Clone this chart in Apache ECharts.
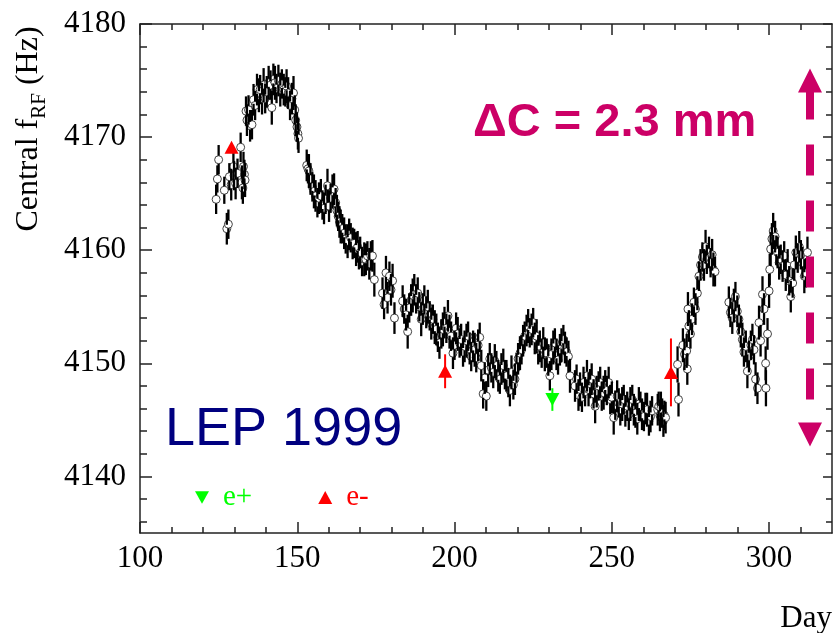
<!DOCTYPE html>
<html>
<head>
<meta charset="utf-8">
<script src="https://cdn.jsdelivr.net/npm/echarts@6/dist/echarts.min.js"></script>
<style>
  html, body { margin: 0; padding: 0; background: #fff; }
  #chart { width: 833px; height: 633px; }
</style>
</head>
<body>
<div id="chart"></div>
<script>
// 目盛りの値
const xMajorTicks = [100, 150, 200, 250, 300];
const xMinorTicks = [110, 120, 130, 140, 160, 170, 180, 190, 210, 220, 230, 240, 260, 270, 280, 290, 310];
const yMajorTicks = [4140, 4150, 4160, 4170, 4180];
const yMinorTicks = [4136, 4138, 4142, 4144, 4146, 4148, 4152, 4154, 4156, 4158,
  4162, 4164, 4166, 4168, 4172, 4174, 4176, 4178];

// 測定点 [日, 周波数(Hz), 誤差(Hz)]
const startRun = [
  [124.2, 4164.5, 1.3], [124.6, 4166.3, 1.2], [125.0, 4168.0, 1.3], [126.8, 4165.3, 1.2],
  [127.6, 4161.9, 1.4], [128.1, 4162.3, 1.3], [128.4, 4166.5, 1.2], [129.0, 4165.8, 1.4],
  [129.7, 4167.4, 1.2], [129.9, 4166.6, 1.3], [130.4, 4165.9, 1.4], [131.0, 4166.8, 1.3],
  [132.0, 4169.1, 1.3], [132.4, 4166.0, 1.5], [132.7, 4165.5, 1.4], [132.9, 4167.4, 1.3],
  [133.2, 4166.7, 1.3], [133.4, 4166.2, 1.5]
];
const peak = [
  [133.7, 4172.3, 1.3], [134.0, 4171.5, 1.4], [134.5, 4172.4, 1.3], [135.0, 4171.0, 1.4],
  [135.6, 4171.1, 1.3], [136.1, 4173.3, 1.4], [136.6, 4172.8, 1.3], [137.2, 4174.2, 1.4],
  [137.8, 4173.7, 1.5], [138.2, 4174.2, 1.3], [138.8, 4173.4, 1.4], [139.3, 4174.6, 1.5],
  [139.8, 4173.4, 1.3], [140.3, 4174.0, 1.4], [140.9, 4174.8, 1.5], [141.5, 4174.6, 1.3],
  [141.9, 4172.6, 1.5], [142.4, 4175.1, 1.4], [142.9, 4174.8, 1.5], [143.4, 4174.3, 1.3],
  [144.0, 4175.0, 1.4], [144.6, 4174.2, 1.5], [145.1, 4174.7, 1.3], [145.7, 4174.2, 1.4],
  [146.2, 4174.0, 1.3], [146.6, 4174.5, 1.5], [147.1, 4173.9, 1.4], [147.7, 4172.8, 1.3],
  [148.3, 4173.4, 1.4], [148.8, 4173.9, 1.5], [149.2, 4172.4, 1.3], [149.5, 4171.5, 1.4],
  [149.9, 4170.9, 1.3], [150.2, 4170.3, 1.4], [150.4, 4169.9, 1.3]
];
const slowDecay = [
  [153.0, 4167.5, 1.4], [153.4, 4167.2, 1.3], [153.7, 4167.0, 1.5], [154.2, 4166.3, 1.4],
  [154.8, 4165.6, 1.3], [155.3, 4165.2, 1.5], [155.8, 4164.8, 1.4], [156.4, 4164.2, 1.3],
  [156.9, 4164.6, 1.4], [157.5, 4164.8, 1.5], [158.0, 4164.0, 1.3], [158.5, 4163.7, 1.4],
  [159.0, 4164.5, 1.3], [159.6, 4165.7, 1.5], [160.1, 4163.9, 1.4], [160.6, 4164.6, 1.3],
  [161.2, 4165.2, 1.5], [161.7, 4165.4, 1.4], [162.2, 4164.2, 1.3], [162.6, 4163.5, 1.4],
  [163.0, 4163.0, 1.3], [163.4, 4162.5, 1.4], [163.8, 4162.1, 1.5], [164.3, 4161.9, 1.3],
  [164.9, 4161.5, 1.4], [165.4, 4161.0, 1.3], [166.0, 4160.8, 1.5], [166.5, 4161.4, 1.4],
  [167.0, 4161.1, 1.3], [167.6, 4160.6, 1.4], [168.1, 4160.6, 1.3], [168.7, 4160.1, 1.5],
  [169.2, 4160.3, 1.4], [169.6, 4159.6, 1.3], [170.0, 4159.8, 1.4], [170.6, 4159.0, 1.3],
  [171.3, 4159.2, 1.5], [171.8, 4159.2, 1.4], [172.3, 4159.5, 1.3], [172.9, 4158.8, 1.4],
  [173.4, 4159.5, 1.3], [173.9, 4159.5, 1.4], [174.5, 4157.4, 1.5]
];
const autumnA = [
  [177.1, 4156.2, 1.4], [177.6, 4155.2, 1.3], [178.2, 4158.0, 1.5], [178.7, 4155.8, 1.4],
  [179.3, 4157.7, 1.3], [179.8, 4156.5, 1.4], [180.3, 4157.3, 1.5], [180.9, 4154.0, 1.4],
  [183.5, 4155.5, 1.4], [184.0, 4154.8, 1.3], [184.6, 4154.3, 1.4], [185.1, 4152.8, 1.5],
  [185.6, 4154.9, 1.3], [186.2, 4155.6, 1.4], [186.7, 4156.0, 1.5], [187.2, 4156.5, 1.4],
  [187.8, 4155.7, 1.3], [188.3, 4156.2, 1.4], [188.8, 4155.0, 1.3], [189.4, 4153.9, 1.5],
  [189.9, 4154.8, 1.4], [190.4, 4155.6, 1.3], [191.0, 4154.5, 1.4], [191.5, 4155.0, 1.5],
  [192.1, 4154.2, 1.3], [192.6, 4153.5, 1.4], [193.1, 4153.9, 1.3], [193.7, 4153.2, 1.5],
  [194.2, 4153.0, 1.4], [194.7, 4152.3, 1.3], [195.2, 4151.8, 1.4], [195.8, 4152.6, 1.3],
  [196.3, 4153.0, 1.5], [196.8, 4153.6, 1.4], [197.4, 4153.1, 1.3], [197.9, 4154.2, 1.4],
  [198.4, 4152.8, 1.5], [198.9, 4152.4, 1.3], [199.5, 4150.9, 1.4], [200.0, 4151.6, 1.3],
  [200.5, 4153.1, 1.4], [201.0, 4152.6, 1.5], [201.6, 4151.8, 1.3], [202.1, 4152.1, 1.4],
  [202.7, 4151.0, 1.3], [203.2, 4151.5, 1.4], [203.8, 4152.0, 1.5], [204.3, 4152.4, 1.3],
  [204.8, 4151.3, 1.4], [205.3, 4150.6, 1.3], [205.9, 4151.5, 1.4], [206.4, 4151.2, 1.5],
  [206.9, 4150.5, 1.3], [207.5, 4151.6, 1.4], [208.0, 4152.3, 1.3]
];
const autumnB = [
  [208.5, 4149.8, 1.4], [209.1, 4147.3, 1.3], [209.6, 4148.7, 1.4], [210.1, 4147.1, 1.3],
  [210.7, 4149.4, 1.5], [211.2, 4150.4, 1.4], [211.7, 4149.6, 1.3], [212.3, 4149.2, 1.4],
  [212.8, 4150.2, 1.5], [213.3, 4149.8, 1.3], [213.9, 4148.9, 1.4], [214.4, 4148.6, 1.3],
  [214.9, 4149.5, 1.4], [215.5, 4149.8, 1.5], [216.0, 4149.0, 1.3], [216.5, 4148.9, 1.4],
  [217.1, 4148.3, 1.3], [217.6, 4147.6, 1.4], [218.1, 4149.2, 1.5], [218.7, 4148.1, 1.3],
  [219.2, 4148.6, 1.4], [219.7, 4149.6, 1.3], [220.2, 4150.4, 1.4], [220.8, 4150.9, 1.5],
  [221.3, 4151.2, 1.3], [221.8, 4152.0, 1.4], [222.3, 4152.4, 1.3], [222.9, 4152.9, 1.4],
  [223.4, 4153.3, 1.5], [223.9, 4152.7, 1.3], [224.5, 4153.0, 1.4], [225.0, 4153.6, 1.3],
  [225.5, 4152.2, 1.4], [226.1, 4152.4, 1.5], [226.6, 4151.2, 1.3], [227.1, 4151.5, 1.4],
  [227.7, 4150.9, 1.3], [228.2, 4151.8, 1.4], [228.7, 4150.8, 1.5], [229.3, 4150.9, 1.3],
  [229.8, 4150.3, 1.4], [230.3, 4148.9, 1.3], [230.8, 4150.8, 1.4], [231.4, 4151.4, 1.5],
  [231.9, 4151.8, 1.3], [232.4, 4150.8, 1.4], [232.9, 4150.3, 1.3], [233.5, 4151.2, 1.4],
  [234.0, 4151.6, 1.5], [234.6, 4152.1, 1.3], [235.1, 4151.4, 1.4], [235.6, 4151.0, 1.3],
  [236.2, 4150.6, 1.4], [236.7, 4148.9, 1.5]
];
const plateau = [
  [238.3, 4148.0, 1.4], [238.8, 4148.6, 1.3], [239.4, 4147.2, 1.4], [239.9, 4147.7, 1.5],
  [240.5, 4147.0, 1.3], [241.0, 4148.3, 1.4], [241.5, 4147.5, 1.3], [242.1, 4148.9, 1.4],
  [242.6, 4147.7, 1.5], [243.1, 4148.2, 1.3], [243.6, 4148.6, 1.4], [244.2, 4147.3, 1.3],
  [244.7, 4146.2, 1.5], [245.2, 4147.5, 1.4], [245.8, 4148.0, 1.3], [246.3, 4148.3, 1.4],
  [246.8, 4147.1, 1.3], [247.4, 4147.4, 1.5], [247.9, 4148.0, 1.4], [248.4, 4147.6, 1.3],
  [249.0, 4148.3, 1.4], [249.5, 4146.8, 1.3], [250.0, 4147.0, 1.4], [250.6, 4145.2, 1.5],
  [251.1, 4146.3, 1.3], [251.7, 4147.1, 1.4], [252.2, 4146.5, 1.3], [252.7, 4145.9, 1.4],
  [253.3, 4146.4, 1.5], [253.8, 4146.8, 1.3], [254.3, 4145.8, 1.4], [254.9, 4146.2, 1.3],
  [255.4, 4145.5, 1.4], [255.9, 4146.4, 1.5], [256.5, 4146.8, 1.3], [257.0, 4145.9, 1.4],
  [257.5, 4145.6, 1.3], [258.1, 4145.1, 1.4], [258.6, 4146.4, 1.5], [259.1, 4146.2, 1.3],
  [259.6, 4145.5, 1.4], [260.2, 4145.3, 1.3], [260.7, 4146.0, 1.4], [261.2, 4145.9, 1.5],
  [261.8, 4144.9, 1.3], [262.3, 4145.3, 1.4], [262.8, 4145.8, 1.3],
  [264.6, 4145.9, 1.4], [264.9, 4146.2, 1.3], [265.3, 4145.4, 1.4], [265.6, 4146.0, 1.5],
  [266.0, 4145.6, 1.3], [266.4, 4144.9, 1.4], [266.7, 4145.4, 1.3], [267.1, 4145.2, 1.4]
];
const recovery = [
  [270.9, 4149.9, 1.6], [271.2, 4146.8, 1.5], [272.6, 4151.6, 1.5], [273.1, 4150.8, 1.4],
  [273.8, 4151.1, 1.5], [274.0, 4149.5, 1.4], [274.2, 4154.8, 1.5], [274.5, 4153.3, 1.4],
  [275.0, 4152.6, 1.3], [275.5, 4153.9, 1.4], [276.1, 4155.4, 1.3], [276.6, 4154.8, 1.4],
  [277.2, 4156.2, 1.5], [277.7, 4157.7, 1.3], [278.2, 4158.7, 1.4], [278.8, 4159.4, 1.3],
  [279.3, 4158.7, 1.4], [279.8, 4160.3, 1.5], [280.2, 4159.2, 1.3], [280.9, 4159.8, 1.4],
  [281.4, 4158.9, 1.3], [281.9, 4159.6, 1.4], [282.3, 4158.3, 1.5], [282.8, 4158.1, 1.3]
];
const lateRun = [
  [287.2, 4155.4, 1.4], [287.7, 4154.5, 1.3], [288.3, 4154.0, 1.4], [288.8, 4155.1, 1.5],
  [289.3, 4155.9, 1.3], [289.9, 4154.6, 1.4], [290.4, 4153.9, 1.3], [291.0, 4152.8, 1.4],
  [291.5, 4152.1, 1.5], [292.0, 4151.0, 1.3], [292.6, 4151.5, 1.4], [293.1, 4149.3, 1.5],
  [293.6, 4150.6, 1.4], [294.2, 4151.6, 1.3], [294.7, 4152.1, 1.4], [295.2, 4151.2, 1.3],
  [295.7, 4148.6, 1.5], [296.3, 4147.8, 1.4], [296.8, 4153.6, 1.5], [297.3, 4152.0, 1.4],
  [297.9, 4156.1, 1.6], [298.4, 4154.8, 1.4], [298.9, 4150.0, 1.5], [299.0, 4147.8, 1.6],
  [299.5, 4152.6, 1.4], [300.0, 4156.4, 1.5], [300.2, 4158.3, 1.4], [300.5, 4160.1, 1.5],
  [300.9, 4161.0, 1.4], [301.3, 4161.7, 1.6], [301.9, 4161.2, 1.4], [302.3, 4160.0, 1.3],
  [302.7, 4159.8, 1.4], [303.2, 4158.9, 1.5], [303.7, 4159.2, 1.3], [304.3, 4158.6, 1.4],
  [304.8, 4159.5, 1.3], [305.3, 4157.8, 1.4], [305.9, 4158.6, 1.5], [306.4, 4157.3, 1.3],
  [306.9, 4155.9, 1.4], [307.5, 4157.1, 1.3], [308.0, 4158.7, 1.4], [308.5, 4159.8, 1.5],
  [309.1, 4159.3, 1.3], [309.6, 4160.3, 1.4], [310.1, 4159.6, 1.3], [310.6, 4158.9, 1.4],
  [311.2, 4157.7, 1.5], [311.7, 4158.0, 1.3], [312.2, 4159.8, 1.4]
];

// 電子・陽電子による測定 [日, 周波数(Hz), 誤差(Hz)]
const electronPoints = [[129.1, 4169.1, 0], [197.0, 4149.3, 1.5], [268.8, 4149.2, 3.0]];
const positronPoints = [[231.1, 4146.8, 1.0]];

// ΔC の矢印（日, 下端, 上端）
const arrowDay = 313;
const arrowLow = 4143.7;
const arrowHigh = 4175.0;

const measurements = [].concat(startRun, peak, slowDecay, autumnA, autumnB, plateau, recovery, lateRun);

const SERIF = "'Liberation Serif', 'Times New Roman', serif";
const SANS = "'Liberation Sans', Arial, sans-serif";
const MAGENTA = '#cc0066';
const AXIS_COLOR = '#222';

const chart = echarts.init(document.getElementById('chart'));

// 枠の各辺に内向きの目盛りを描く軸を作る
function frameAxis(dim, position, ticks, length, main) {
  const range = dim === 'x' ? { min: 100, max: 320 } : { min: 4135, max: 4180 };
  return Object.assign({
    type: 'value',
    position: position,
    splitLine: { show: false },
    axisLine: { show: main, onZero: false, lineStyle: { color: AXIS_COLOR, width: 1.5 } },
    axisTick: { show: true, inside: true, length: length, customValues: ticks,
      lineStyle: { color: AXIS_COLOR, width: 1.5 } },
    axisLabel: { show: false }
  }, range);
}

// 目盛りラベルは明朝体（Times 系）にする
function tickLabel(ticks, margin) {
  return {
    show: true,
    customValues: ticks,
    margin: margin,
    formatter: v => '{t|' + v + '}',
    rich: { t: { fontFamily: SERIF, fontSize: 31, color: '#000' } }
  };
}

// 点の部分を空けて誤差棒を描く
function renderDataBar(params, api) {
  const day = api.value(0);
  const freq = api.value(1);
  const err = api.value(2);
  const top = api.coord([day, freq + err]);
  const mid = api.coord([day, freq]);
  const bottom = api.coord([day, freq - err]);
  const gap = 4;
  return {
    type: 'group',
    children: [
      { type: 'line', shape: { x1: top[0], y1: top[1], x2: mid[0], y2: mid[1] - gap },
        style: { stroke: '#000', lineWidth: 2.3 } },
      { type: 'line', shape: { x1: mid[0], y1: mid[1] + gap, x2: bottom[0], y2: bottom[1] },
        style: { stroke: '#000', lineWidth: 2.3 } }
    ]
  };
}

function colouredBar(color) {
  return function (params, api) {
    const day = api.value(0);
    const freq = api.value(1);
    const err = api.value(2);
    const top = api.coord([day, freq + err]);
    const bottom = api.coord([day, freq - err]);
    return {
      type: 'line',
      shape: { x1: top[0], y1: top[1], x2: bottom[0], y2: bottom[1] },
      style: { stroke: color, lineWidth: 2 }
    };
  };
}

const downTriangle = 'path://M0,0 L10,0 L5,9 Z';

const xMain = frameAxis('x', 'bottom', xMajorTicks, 11, true);
xMain.axisLabel = tickLabel(xMajorTicks, 10);
xMain.name = 'Day';
xMain.nameLocation = 'end';
xMain.nameGap = 0;
xMain.nameTextStyle = { fontFamily: SERIF, fontSize: 31, color: '#000',
  align: 'right', verticalAlign: 'top', padding: [70, 0, 0, 0] };

const yMain = frameAxis('y', 'left', yMajorTicks, 12, true);
yMain.axisLabel = tickLabel(yMajorTicks, 14);

const option = {
  animation: false,
  backgroundColor: '#fff',
  textStyle: { fontFamily: SERIF },
  grid: { left: 140, right: 1, top: 24, bottom: 100, outerBoundsMode: 'none' },
  xAxis: [
    xMain,
    frameAxis('x', 'bottom', xMinorTicks, 6, false),
    frameAxis('x', 'top', xMajorTicks, 11, true),
    frameAxis('x', 'top', xMinorTicks, 6, false)
  ],
  yAxis: [
    yMain,
    frameAxis('y', 'left', yMinorTicks, 7, false),
    frameAxis('y', 'right', yMajorTicks, 9, true),
    frameAxis('y', 'right', yMinorTicks, 6, false)
  ],
  legend: {
    left: 190,
    top: 478,
    itemWidth: 14,
    itemHeight: 13,
    itemGap: 66,
    selectedMode: false,
    textStyle: { fontFamily: SERIF, fontSize: 29, padding: [0, 0, 0, 9] },
    data: [
      { name: 'e+', icon: downTriangle, textStyle: { color: '#00ff00' } },
      { name: 'e-', icon: 'triangle', textStyle: { color: '#ff0000' } }
    ]
  },
  series: [
    {
      name: 'data',
      type: 'scatter',
      z: 2,
      data: measurements.map(p => [p[0], p[1]]),
      symbol: 'circle',
      symbolSize: 8,
      itemStyle: { color: '#fff', borderColor: '#444', borderWidth: 1, opacity: 1 },
      markLine: {
        silent: true,
        animation: false,
        symbol: ['triangle', 'triangle'],
        symbolSize: [24, 24],
        label: { show: false },
        itemStyle: { color: MAGENTA },
        lineStyle: { color: MAGENTA, width: 8, type: [31, 25], dashOffset: 21, opacity: 1 },
        emphasis: { disabled: true },
        data: [[{ coord: [arrowDay, arrowLow] }, { coord: [arrowDay, arrowHigh] }]]
      }
    },
    {
      name: 'data err',
      type: 'custom',
      z: 3,
      renderItem: renderDataBar,
      encode: { x: 0, y: 1 },
      data: measurements
    },
    {
      name: 'e- err',
      type: 'custom',
      z: 4,
      renderItem: colouredBar('#ff0000'),
      encode: { x: 0, y: 1 },
      data: electronPoints
    },
    {
      name: 'e+ err',
      type: 'custom',
      z: 4,
      renderItem: colouredBar('#00ff00'),
      encode: { x: 0, y: 1 },
      data: positronPoints
    },
    {
      name: 'e-',
      type: 'scatter',
      z: 5,
      symbol: 'triangle',
      symbolSize: [14, 13],
      itemStyle: { color: '#ff0000', opacity: 1 },
      data: electronPoints.map(p => [p[0], p[1]])
    },
    {
      name: 'e+',
      type: 'scatter',
      z: 5,
      symbol: downTriangle,
      symbolSize: [14, 13],
      itemStyle: { color: '#00ff00', opacity: 1 },
      data: positronPoints.map(p => [p[0], p[1]])
    }
  ],
  graphic: [
    {
      type: 'text',
      x: 29,
      y: 129,
      rotation: Math.PI / 2,
      style: {
        text: 'Central f{sub|RF} (Hz)',
        fontFamily: SERIF,
        fontSize: 32,
        lineHeight: 42,
        fill: '#000',
        align: 'center',
        verticalAlign: 'middle',
        rich: {
          sub: { fontFamily: SERIF, fontSize: 21, lineHeight: 21, verticalAlign: 'bottom', fill: '#000' }
        }
      }
    },
    {
      type: 'text',
      x: 165,
      y: 430,
      style: { text: 'LEP 1999', fontFamily: SANS, fontSize: 54, fill: '#000080',
        align: 'left', verticalAlign: 'middle' }
    },
    {
      type: 'text',
      x: 473,
      y: 123,
      style: { text: 'ΔC = 2.3 mm', fontFamily: SANS, fontSize: 47, fontWeight: 'bold',
        fill: MAGENTA, align: 'left', verticalAlign: 'middle' }
    }
  ]
};

chart.setOption(option);
</script>
</body>
</html>
